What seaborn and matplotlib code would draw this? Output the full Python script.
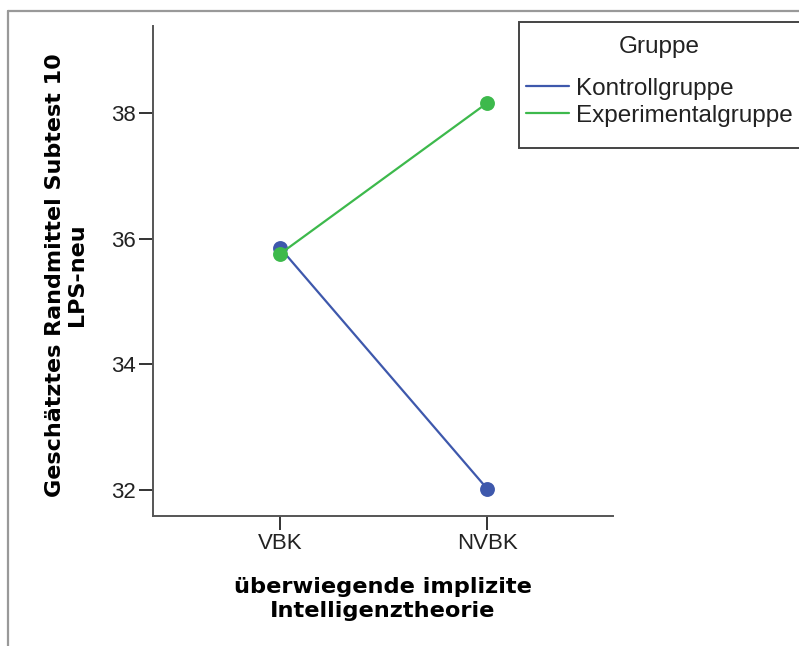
import matplotlib
matplotlib.use("Agg")
import matplotlib.pyplot as plt
from matplotlib.lines import Line2D
from matplotlib.patches import Rectangle
import seaborn as sns
import pandas as pd

# Data
categories = ["VBK", "NVBK"]
groups = ["Kontrollgruppe", "Experimentalgruppe"]
kontroll = [35.85, 32.02]
experimental = [35.76, 38.16]
yticks = [32, 34, 36, 38]

df = pd.DataFrame({
    "theorie": categories * 2,
    "wert": kontroll + experimental,
    "gruppe": [groups[0]] * 2 + [groups[1]] * 2,
})

sns.set_theme(style="white")
plt.rcParams["font.family"] = ["Liberation Sans", "DejaVu Sans"]

W, H = 799, 646
fig = plt.figure(figsize=(W / 100, H / 100), dpi=100)
ax = fig.add_axes([153 / W, 1 - 516 / H, (613 - 153) / W, (516 - 26) / H])

palette = {"Kontrollgruppe": "#3E58AC", "Experimentalgruppe": "#3DB94C"}
sns.pointplot(data=df, x="theorie", y="wert", hue="gruppe", order=categories,
              hue_order=groups, palette=palette, markers="o", linestyles="-",
              errorbar=None, ax=ax, markersize=9.5, linewidth=1.6)
if ax.get_legend() is not None:
    ax.get_legend().remove()

ax.set_xlim(-0.615, 1.608)
ax.set_ylim(31.586, 39.385)
ax.set_yticks(yticks)
ax.set_yticklabels([str(t) for t in yticks])
ax.set_xlabel("")
ax.set_ylabel("")

for s in ["top", "right"]:
    ax.spines[s].set_visible(False)
for s in ["left", "bottom"]:
    ax.spines[s].set_color("#555555")
    ax.spines[s].set_linewidth(1.4)
ax.tick_params(axis="both", which="major", direction="out", length=10, width=1.4,
               color="#333333", labelsize=16, labelcolor="#222222", pad=2,
               left=True, bottom=True)

fig.text(66 / W, 1 - 275 / H, "Geschätztes Randmittel Subtest 10\nLPS-neu",
         rotation=90, ha="center", va="center", multialignment="center",
         fontsize=16, fontweight="bold", color="black", family="DejaVu Sans",
         linespacing=1.15)
fig.text(383 / W, 1 - 599 / H, "überwiegende implizite\nIntelligenztheorie",
         ha="center", va="center", multialignment="center",
         fontsize=16.2, fontweight="bold", color="black", family="DejaVu Sans",
         linespacing=1.3)

# Legend frame (extends past the right edge like the reference)
fig.add_artist(Rectangle((519 / W, 1 - 148 / H), 300 / W, 126 / H,
                         transform=fig.transFigure, facecolor="white",
                         edgecolor="#444444", lw=1.4, clip_on=False, zorder=2))

handles = [Line2D([], [], color=palette[g], lw=1.6) for g in groups]
fs = 17.5
leg = fig.legend(handles, groups, title="Gruppe", loc="upper left",
                 bbox_to_anchor=(526 / W, 1 - 36.5 / H), borderaxespad=0,
                 fontsize=fs, title_fontsize=fs, frameon=False,
                 handlelength=1.75, handletextpad=0.3, labelspacing=0.2,
                 borderpad=0)
leg._legend_box.sep = 0.2 * fs + 10.5
leg.set_zorder(3)
for t in leg.get_texts():
    t.set_color("#222222")
leg.get_title().set_color("#222222")

# Figure border (top and left)
fig.add_artist(Line2D([8 / W, 1.0], [1 - 11 / H, 1 - 11 / H], transform=fig.transFigure,
                      color="#999999", lw=1.6))
fig.add_artist(Line2D([8 / W, 8 / W], [0, 1 - 11 / H], transform=fig.transFigure,
                      color="#999999", lw=1.6))

fig.savefig("out.png", dpi=100)
